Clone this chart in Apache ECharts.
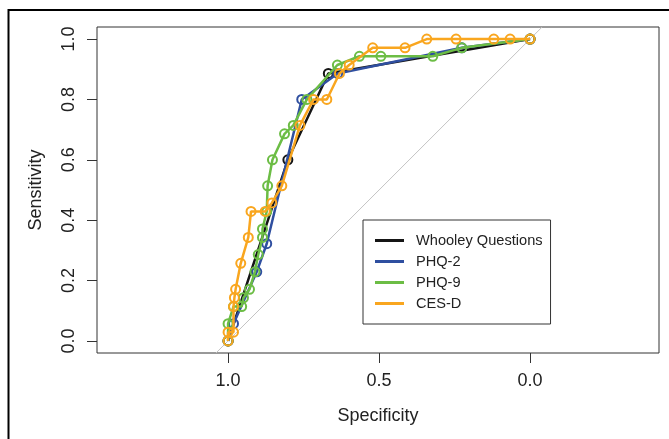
<!DOCTYPE html>
<html><head><meta charset="utf-8">
<script src="https://cdn.jsdelivr.net/npm/echarts@6/dist/echarts.min.js"></script>
<style>html,body{margin:0;padding:0;background:#fff}#c{width:669px;height:439px}</style>
</head><body><div id="c"></div>
<script>
const seriesNames = ['Whooley Questions', 'PHQ-2', 'PHQ-9', 'CES-D'];
const seriesColors = ['#151515', '#2f4fa0', '#6cbd45', '#f9a61f'];
const whooleySpec = [1.0, 0.802, 0.668, 0.0];
const whooleySens = [0.0, 0.6, 0.886, 1.0];
const phq2Spec = [1.0, 0.982, 0.905, 0.872, 0.756, 0.637, 0.226, 0.0];
const phq2Sens = [0.0, 0.057, 0.229, 0.322, 0.8, 0.886, 0.971, 1.0];
const phq9Spec = [1.0, 1.0, 0.982, 0.955, 0.949, 0.929, 0.911, 0.9, 0.886, 0.886, 0.872, 0.869, 0.853, 0.813, 0.784, 0.739, 0.638, 0.565, 0.494, 0.322, 0.226, 0.0];
const phq9Sens = [0.0, 0.057, 0.114, 0.114, 0.143, 0.171, 0.229, 0.286, 0.343, 0.371, 0.429, 0.514, 0.6, 0.686, 0.714, 0.8, 0.914, 0.943, 0.943, 0.943, 0.971, 1.0];
const cesdSpec = [1.0, 1.0, 0.982, 0.982, 0.979, 0.975, 0.958, 0.933, 0.924, 0.877, 0.855, 0.822, 0.762, 0.717, 0.673, 0.631, 0.599, 0.521, 0.414, 0.342, 0.245, 0.12, 0.066, 0.0];
const cesdSens = [0.0, 0.029, 0.029, 0.114, 0.143, 0.171, 0.257, 0.343, 0.429, 0.429, 0.457, 0.514, 0.714, 0.8, 0.8, 0.886, 0.914, 0.971, 0.971, 1.0, 1.0, 1.0, 1.0, 1.0];
const diagSpec = [1.04, -0.04];
const diagSens = [-0.04, 1.04];
const xTicks = [0, 0.5, 1.0];
const yTicks = [0, 0.2, 0.4, 0.6, 0.8, 1.0];

const specs = [whooleySpec, phq2Spec, phq9Spec, cesdSpec];
const senss = [whooleySens, phq2Sens, phq9Sens, cesdSens];
const FONT = 'Liberation Sans';
const zip = (a, b) => a.map((v, i) => [v, b[i]]);

const chart = echarts.init(document.getElementById('c'), null, {renderer: 'canvas'});
const series = [{
  type: 'line', name: 'diag', data: zip(diagSpec, diagSens), symbol: 'none', silent: true,
  lineStyle: {color: '#c4c4c4', width: 1}, z: 1
}];
seriesNames.forEach((n, i) => {
  series.push({
    type: 'line', name: n, data: zip(specs[i], senss[i]),
    symbol: 'circle', symbolSize: 9, showAllSymbol: true,
    color: seriesColors[i],
    lineStyle: {color: seriesColors[i], width: 2.5},
    itemStyle: {color: 'rgba(0,0,0,0)', borderColor: seriesColors[i], borderWidth: 2},
    emphasis: {disabled: true}, animation: false, z: 2 + i
  });
});

chart.setOption({
  animation: false,
  textStyle: {fontFamily: FONT},
  grid: {left: 97, right: 10, top: 27, bottom: 86, show: true, borderColor: '#333', borderWidth: 1, backgroundColor: 'transparent'},
  xAxis: {
    type: 'value', inverse: true, min: -0.427, max: 1.434,
    name: 'Specificity', nameLocation: 'middle', nameGap: 54,
    nameTextStyle: {fontFamily: FONT, fontSize: 18, color: '#222'},
    axisLine: {show: false, onZero: false},
    axisTick: {show: true, customValues: xTicks, length: 10, lineStyle: {color: '#333'}},
    axisLabel: {customValues: xTicks, fontFamily: FONT, fontSize: 18, color: '#222', margin: 19,
      formatter: v => v.toFixed(1)},
    splitLine: {show: false}
  },
  yAxis: {
    type: 'value', min: -0.04, max: 1.04,
    name: 'Sensitivity', nameLocation: 'middle', nameGap: 52, nameRotate: 90,
    nameTextStyle: {fontFamily: FONT, fontSize: 18, color: '#222'},
    axisLine: {show: false, onZero: false},
    axisTick: {show: true, customValues: yTicks, length: 10, lineStyle: {color: '#333'}},
    axisLabel: {customValues: yTicks, rotate: 90, fontFamily: FONT, fontSize: 18, color: '#222', margin: 19,
      formatter: v => v.toFixed(1)},
    splitLine: {show: false}
  },
  legend: {
    orient: 'vertical', left: 363, top: 220,
    data: seriesNames.map((n, i) => ({name: n, icon: 'rect', itemStyle: {color: seriesColors[i], borderWidth: 0}})),
    itemWidth: 29, itemHeight: 3, itemGap: 6,
    padding: [13, 8, 13, 12],
    borderColor: '#333', borderWidth: 1, borderRadius: 0,
    textStyle: {fontFamily: FONT, fontSize: 14.6, color: '#222', padding: [0, 0, 0, 7]},
    selectedMode: false
  },
  graphic: [{
    type: 'rect', shape: {x: 8.5, y: 10, width: 800, height: 600},
    style: {fill: 'none', stroke: '#000', lineWidth: 2}, silent: true, z: 100
  }],
  series: series
});
</script></body></html>
